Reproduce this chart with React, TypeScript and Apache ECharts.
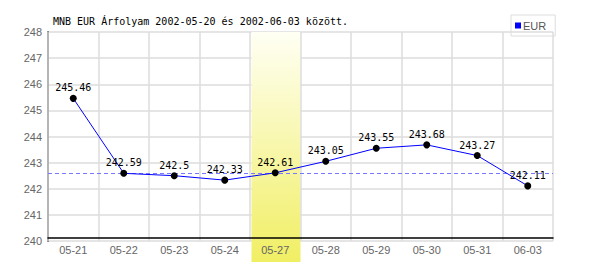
import React, { useEffect, useRef } from "react";
import * as echarts from "echarts";

const categories = ["05-21", "05-22", "05-23", "05-24", "05-27", "05-28", "05-29", "05-30", "05-31", "06-03"];
const eurValues = [245.46, 242.59, 242.5, 242.33, 242.61, 243.05, 243.55, 243.68, 243.27, 242.11];
const highlightCategory = "05-27";
const referenceValue = 242.61;
const titleText = "MNB EUR Árfolyam 2002-05-20 és 2002-06-03 között.";
const seriesName = "EUR";

export default function App() {
  const ref = useRef<HTMLDivElement>(null);
  useEffect(() => {
    if (!ref.current) return;
    const chart = echarts.init(ref.current, null, { renderer: "svg" });
    const mono = "DejaVu Sans Mono";
    chart.setOption({
      animation: false,
      backgroundColor: "#fff",
      title: {
        text: titleText,
        left: 48,
        top: 11,
        textStyle: { fontFamily: mono, fontSize: 10, fontWeight: "normal", color: "#000" },
      },
      legend: {
        left: 511,
        top: 15,
        orient: "vertical",
        data: [{ name: seriesName, icon: "rect", itemStyle: { color: "#0000ff" } }],
        itemWidth: 6,
        itemHeight: 6,
        itemGap: 2,
        padding: [5, 9, 5, 4],
        borderColor: "#ddd",
        borderWidth: 1,
        textStyle: { fontFamily: "Liberation Sans", fontSize: 11, color: "#555", padding: [0, 0, 0, -3] },
      },
      grid: { left: 48, right: 47, top: 32, bottom: 29 },
      xAxis: {
        type: "category",
        data: categories,
        boundaryGap: true,
        offset: -3,
        z: 3,
        axisLine: { lineStyle: { color: "#000", width: 1.5 } },
        axisTick: { show: false },
        axisLabel: { margin: 6, color: "#666", fontFamily: "Liberation Sans", fontSize: 11 },
        splitLine: { show: true, lineStyle: { color: "#ddd", width: 1.5 } },
      },
      yAxis: {
        type: "value",
        min: 240,
        max: 248,
        interval: 1,
        z: 0,
        axisLine: { show: true, lineStyle: { color: "#000", width: 1.5 } },
        axisTick: { show: false },
        axisLabel: { margin: 6, color: "#666", fontFamily: "Liberation Sans", fontSize: 11 },
        splitLine: { show: true, lineStyle: { color: "#ddd", width: 1.5 } },
      },
      series: [
        {
          name: seriesName,
          type: "line",
          data: eurValues,
          z: 5,
          symbol: "circle",
          symbolSize: 7,
          itemStyle: { color: "#000" },
          lineStyle: { color: "#0000ff", width: 1 },
          label: {
            show: true,
            position: "top",
            distance: 2,
            fontFamily: mono,
            fontSize: 10,
            color: "#000",
          },
          markLine: {
            silent: true,
            symbol: ["none", "none"],
            label: { show: false },
            lineStyle: { color: "#7777ff", type: [4, 3], width: 1, opacity: 1 },
            emphasis: { disabled: true },
            data: [{ yAxis: referenceValue }],
          },
        },
      ],
    });
    const idx = categories.indexOf(highlightCategory);
    const c = chart.convertToPixel({ xAxisIndex: 0 }, idx) as number;
    const top = chart.convertToPixel({ yAxisIndex: 0 }, 248) as number;
    const c0 = chart.convertToPixel({ xAxisIndex: 0 }, 0) as number;
    const c1 = chart.convertToPixel({ xAxisIndex: 0 }, 1) as number;
    const band = c1 - c0;
    chart.setOption({
      graphic: [
        {
          type: "rect",
          z: 1,
          shape: { x: c - band / 2 + 1.5, y: top, width: band - 1.5, height: 270 - top },
          style: {
            fill: new echarts.graphic.LinearGradient(0, 0, 0, 1, [
              { offset: 0, color: "#fffff4" },
              { offset: 1, color: "#f0ee5e" },
            ]),
          },
        },
      ],
    });
    return () => chart.dispose();
  }, []);
  return <div ref={ref} style={{ width: 600, height: 270, margin: -8 }} />;
}
